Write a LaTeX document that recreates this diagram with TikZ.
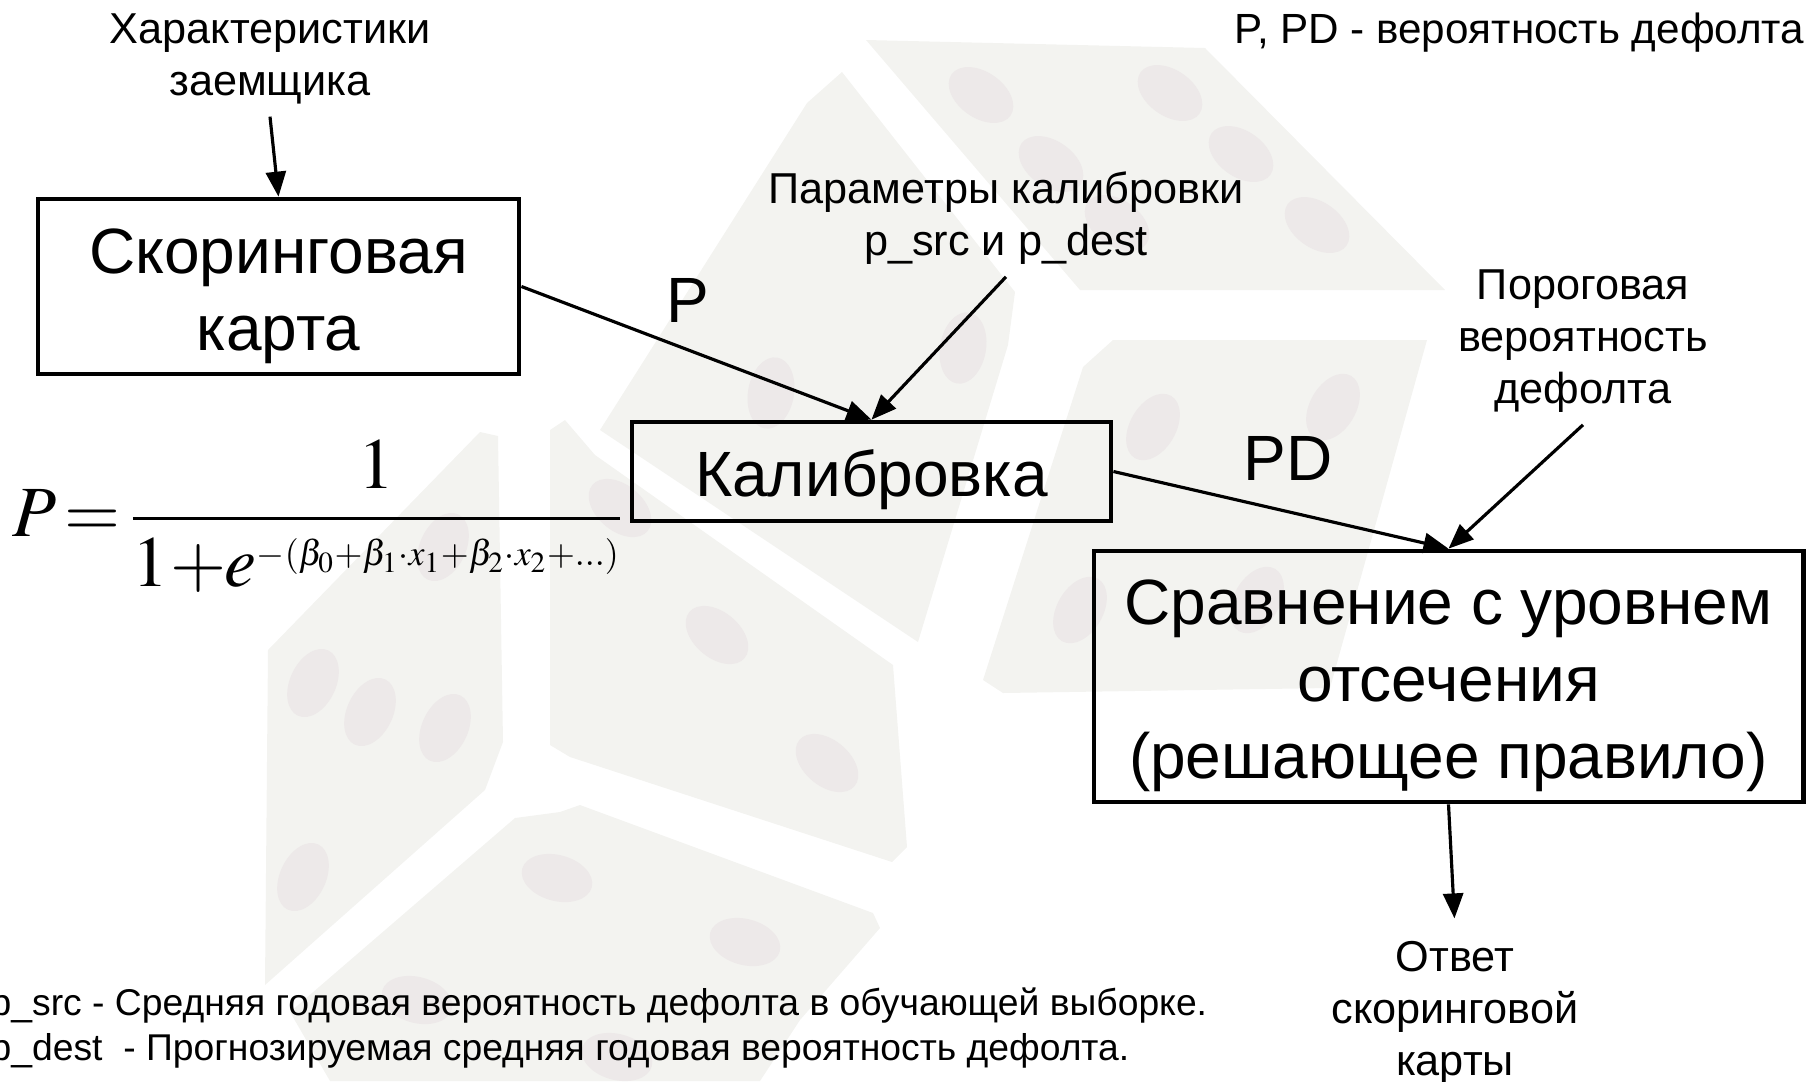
\documentclass[tikz,border=0pt]{standalone}
\usepackage{mathptmx}
\usepackage{fontspec}
\setmainfont{Liberation Sans}
\usetikzlibrary{arrows.meta}

\definecolor{dicegray}{RGB}{243,243,240}
\definecolor{pipgray}{RGB}{237,233,233}
\newcommand{\topstrut}{\rule{0pt}{1.0em}}

\begin{document}
\begin{tikzpicture}[x=0.01cm, y=-0.01cm,
  block/.style={draw, line width=1.3pt, align=center, inner sep=0pt,
    font=\fontsize{18.2}{21.9}\selectfont},
  note/.style={align=center, font=\fontsize{12.3}{14.8}\selectfont},
  flow/.style={line width=0.9pt, -{Triangle[length=0.25cm, width=0.2cm]}},
  face/.style={fill=dicegray},
  pip/.style={fill=pipgray}]

  \useasboundingbox (0,0) rectangle (1818,1081);

  % Фон
  \fill[face] (866,40) -- (1205,48) -- (1445,290) -- (1080,290) -- cycle;
  \fill[face] (807,103) -- (842,72) -- (1015,292) -- (1008,345) -- (918,642) -- (600,430) -- cycle;
  \fill[face] (1083,367) -- (1113,340) -- (1427,340) -- (1330,688) -- (1003,693) -- (983,680) -- cycle;
  \fill[face] (268,650) -- (480,432) -- (498,436) -- (503,742) -- (485,790) -- (265,985) -- cycle;
  \fill[face] (550,430) -- (565,420) -- (595,455) -- (893,665) -- (907,847) -- (892,862) -- (570,757) -- (550,745) -- cycle;
  \fill[face] (290,1012) -- (515,818) -- (560,812) -- (580,805) -- (873,913) -- (880,928) -- (800,1020) -- (760,1081) -- (330,1081) -- cycle;
  \foreach \x/\y/\a in {981/95/-35, 1051/164/-35, 1117/223/-35, 1170/93/-35, 1241/154/-35, 1317/225/-35,
      771/393/80, 963/348/80, 620/508/-40, 717/635/-40, 827/763/-40,
      1153/427/60, 1333/407/60, 1080/610/60, 1257/600/60,
      443/547/65, 313/683/65, 370/712/65, 445/728/65, 303/877/65,
      557/878/-15, 745/942/-15, 417/1000/-15, 617/1057/-15}
    \fill[pip, rotate around={\a:(\x,\y)}] (\x,\y) ellipse [x radius=36, y radius=23];

  % Блоки
  \node[block, minimum width=4.81cm, minimum height=1.75cm] (card) at (278.5,286.5) {\topstrut Скоринговая\\карта};
  \node[block, minimum width=4.79cm, minimum height=0.99cm] (calib) at (871.5,471.5) {\topstrut Калибровка};
  \node[block, minimum width=7.09cm, minimum height=2.51cm] (cutoff) at (1448.5,676.5) {\topstrut Сравнение с уровнем\\отсечения\\(решающее правило)};

  % Подписи
  \node[note] (borrower) at (270,59) {Характеристики\\заемщика};
  \node[note] (params) at (1006,218) {Параметры калибровки\\p\_src и p\_dest};
  \node[note] (threshold) at (1583,341) {Пороговая\\вероятность\\дефолта};
  \node[note] (answer) at (1455,1013) {Ответ\\скоринговой\\карты};
  \node[note, anchor=east, inner sep=0pt, font=\fontsize{12}{14.4}\selectfont] (legend) at (1805,33) {P, PD - вероятность дефолта};
  \node[font=\fontsize{18.2}{21.9}\selectfont] (plabel) at (688,300) {P};
  \node[font=\fontsize{18.2}{21.9}\selectfont] (pdlabel) at (1288,458) {PD};

  % Формула
  \node[anchor=west, inner sep=0pt, font=\fontsize{20.5}{24}\selectfont] (formula) at (12,516)
    {\nulldelimiterspace=0pt$\displaystyle P\mkern-2mu=\mkern-1mu\frac{1}{1\mkern-2mu+\mkern-3mu e^{\mbox{\fontsize{13.8}{16}\selectfont$\scriptstyle-(\beta_0+\beta_1\cdot x_1+\beta_2\cdot x_2+...)$}}}$};

  % Пояснения
  \node[anchor=west, align=left, inner sep=0pt, font=\fontsize{10.6}{13}\selectfont] (notes) at (-10,1028)
    {p\_src - Средняя годовая вероятность дефолта в обучающей выборке.\\
     p\_dest\ \ - Прогнозируемая средняя годовая вероятность дефолта.};

  % Стрелки
  \draw[flow] (borrower.south) -- (card.north);
  \draw[flow] (card.east) -- (calib.north);
  \draw[flow] (params.south) -- (calib.north);
  \draw[flow] (calib.east) -- (cutoff.north);
  \draw[flow] (threshold.south) -- (cutoff.north);
  \draw[flow, shorten >=3pt] (cutoff.south) -- (answer.north);
\end{tikzpicture}
\end{document}
